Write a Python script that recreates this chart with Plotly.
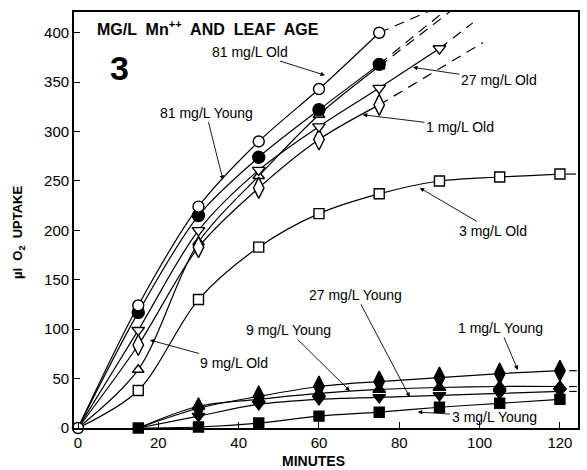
import plotly.graph_objects as go

# ---------------- data ----------------
minutes_old = [0, 15, 30, 45, 60, 75]
old_81 = [0, 124, 224, 290, 343, 400]
young_81 = [0, 117, 215, 274, 322, 368]
old_1 = [0, 84, 183, 243, 292, 327]
old_9 = [0, 59, 188, 255, 317, 366]
minutes_old27 = [0, 15, 30, 45, 60, 75, 90]
old_27 = [0, 99, 200, 261, 305, 344, 384]
minutes_long = [0, 15, 30, 45, 60, 75, 90, 105, 120]
old_3 = [0, 38, 130, 183, 217, 237, 250, 254, 257]

minutes_young = [15, 30, 45, 60, 75, 90, 105, 120]
young_1 = [0, 20, 32, 42, 47, 51, 55, 58]
young_9 = [0, 22, 29, 35, 39, 41, 42, 42]
young_27 = [0, 12, 24, 29, 31, 33, 35, 37]
young_3 = [0, 1, 5, 12, 16, 21, 25, 29]

# dashed extrapolations (start point, end point)
ext_81_old_x, ext_81_old_y = [75, 88], [400, 423]
ext_81_young_x, ext_81_young_y = [75, 91], [368, 421]
ext_9_old_x, ext_9_old_y = [75, 92.5], [366, 421]
ext_27_old_x, ext_27_old_y = [90, 98.3], [384, 410]
ext_1_old_x, ext_1_old_y = [75, 100.8], [327, 390]
ext_3_old_x, ext_3_old_y = [121.5, 124], [257, 257]
young_tail_x = [122.3, 124.2]

x_ticks = [0, 20, 40, 60, 80, 100, 120]
y_ticks = [0, 50, 100, 150, 200, 250, 300, 350, 400]

# label texts: (text, arrow-tip x, arrow-tip y, text x, text y)
labels = [
    ("81 mg/L Old", 61.5, 357, 42.8, 381),
    ("81 mg/L Young", 36.1, 251, 31.9, 319),
    ("27 mg/L Old", 83.4, 365, 104.8, 352),
    ("1 mg/L Old", 70.9, 317, 95.1, 305),
    ("3 mg/L Old", 85.1, 243, 103.3, 199.5),
    ("27 mg/L Young", 82.6, 31.4, 69.2, 134.7),
    ("9 mg/L Young", 67.7, 37.5, 52.3, 99.2),
    ("9 mg/L Old", 17.9, 89, 38.8, 65.8),
    ("1 mg/L Young", 109.5, 58.7, 105.1, 101.3),
    ("3 mg/L Young", 84.6, 16.2, 103.6, 11.1),
]

FONT = "Liberation Sans, Arial, sans-serif"
fig = go.Figure()

LW = 1.2
line_style = dict(color="black", width=LW, shape="spline", smoothing=0.9)
dash_style = dict(color="black", width=LW, dash="10px,7px")

# ---- lines ----
for xs, ys in [(minutes_old, old_81), (minutes_old, young_81), (minutes_old, old_1),
               (minutes_old, old_9), (minutes_old27, old_27), (minutes_long, old_3),
               (minutes_young, young_1), (minutes_young, young_9),
               (minutes_young, young_27), (minutes_young, young_3)]:
    fig.add_trace(go.Scatter(x=xs, y=ys, mode="lines", line=line_style,
                             showlegend=False, hoverinfo="skip"))

for xs, ys in [(ext_81_old_x, ext_81_old_y), (ext_81_young_x, ext_81_young_y),
               (ext_9_old_x, ext_9_old_y), (ext_27_old_x, ext_27_old_y),
               (ext_1_old_x, ext_1_old_y), (ext_3_old_x, ext_3_old_y)]:
    fig.add_trace(go.Scatter(x=xs, y=ys, mode="lines", line=dash_style,
                             showlegend=False, hoverinfo="skip"))

for ys in [young_1, young_9, young_27]:
    fig.add_trace(go.Scatter(x=young_tail_x, y=[ys[-1], ys[-1]], mode="lines",
                             line=dict(color="black", width=LW),
                             showlegend=False, hoverinfo="skip"))

# ---- markers ----
def markers(xs, ys, symbol, size, fill):
    fig.add_trace(go.Scatter(
        x=xs, y=ys, mode="markers", cliponaxis=False,
        marker=dict(symbol=symbol, size=size, color=fill,
                    line=dict(color="black", width=1.4)),
        showlegend=False, hoverinfo="skip"))

markers(minutes_long[1:], old_3[1:], "square", 10, "white")
markers(minutes_old[1:], old_9[1:], "triangle-up", 10, "white")
markers(minutes_old[1:], old_1[1:], "diamond-tall", 15, "white")
markers(minutes_old27[1:], old_27[1:], "triangle-down", 11, "white")
markers(minutes_old[1:], young_81[1:], "circle", 12, "black")
markers(minutes_old, old_81, "circle", 11, "white")

markers(minutes_young, young_3, "square", 10, "black")
markers(minutes_young[1:], young_27[1:], "triangle-down", 11, "black")
markers(minutes_young[1:], young_9[1:], "triangle-up", 11, "black")
markers(minutes_young[1:], young_1[1:], "diamond-tall", 15, "black")

# ---- annotations ----
ann = []
for text, tx, ty, lx, ly in labels:
    ann.append(dict(x=tx, y=ty, ax=lx, ay=ly, axref="x", ayref="y",
                    xref="x", yref="y", text=text, showarrow=True,
                    arrowhead=2, arrowsize=1, arrowwidth=0.9, arrowcolor="black",
                    font=dict(family=FONT, size=14, color="black")))

ann.append(dict(xref="paper", yref="paper", x=0.0417, y=0.9615, xanchor="left",
                yanchor="middle", showarrow=False,
                text="<b>MG/L  Mn<sup>++</sup>  AND  LEAF  AGE</b>",
                font=dict(family=FONT, size=16, color="black")))
ann.append(dict(xref="paper", yref="paper", x=0.091, y=0.865, xanchor="center",
                yanchor="middle", showarrow=False, text="<b>3</b>",
                font=dict(family=FONT, size=34, color="black")))
ann.append(dict(xref="paper", yref="paper", x=0.476, y=-0.08, xanchor="center",
                yanchor="middle", showarrow=False, text="<b>MINUTES</b>",
                font=dict(family=FONT, size=14, color="black")))
ann.append(dict(xref="paper", yref="paper", x=-0.11, y=0.47, xanchor="center",
                yanchor="middle", showarrow=False, textangle=-90,
                text="<b>µl  O<sub>2</sub>  UPTAKE</b>",
                font=dict(family=FONT, size=13, color="black")))

fig.update_layout(
    width=587, height=470,
    margin=dict(l=74, r=9, t=12, b=42, autoexpand=False),
    paper_bgcolor="white", plot_bgcolor="white",
    annotations=ann,
    xaxis=dict(range=[-1, 124.5], tickvals=x_ticks, ticks="inside", ticklen=6,
               tickwidth=1.3, tickcolor="black", showline=True, linecolor="black",
               linewidth=1.8, mirror=True, showgrid=False, zeroline=False,
               tickfont=dict(family=FONT, size=15, color="black")),
    yaxis=dict(range=[0, 421], tickvals=y_ticks, ticks="inside", ticklen=6,
               tickwidth=1.3, tickcolor="black", showline=True, linecolor="black",
               linewidth=1.8, mirror=True, showgrid=False, zeroline=False,
               tickfont=dict(family=FONT, size=15, color="black")),
)

fig.write_html("out.html")
